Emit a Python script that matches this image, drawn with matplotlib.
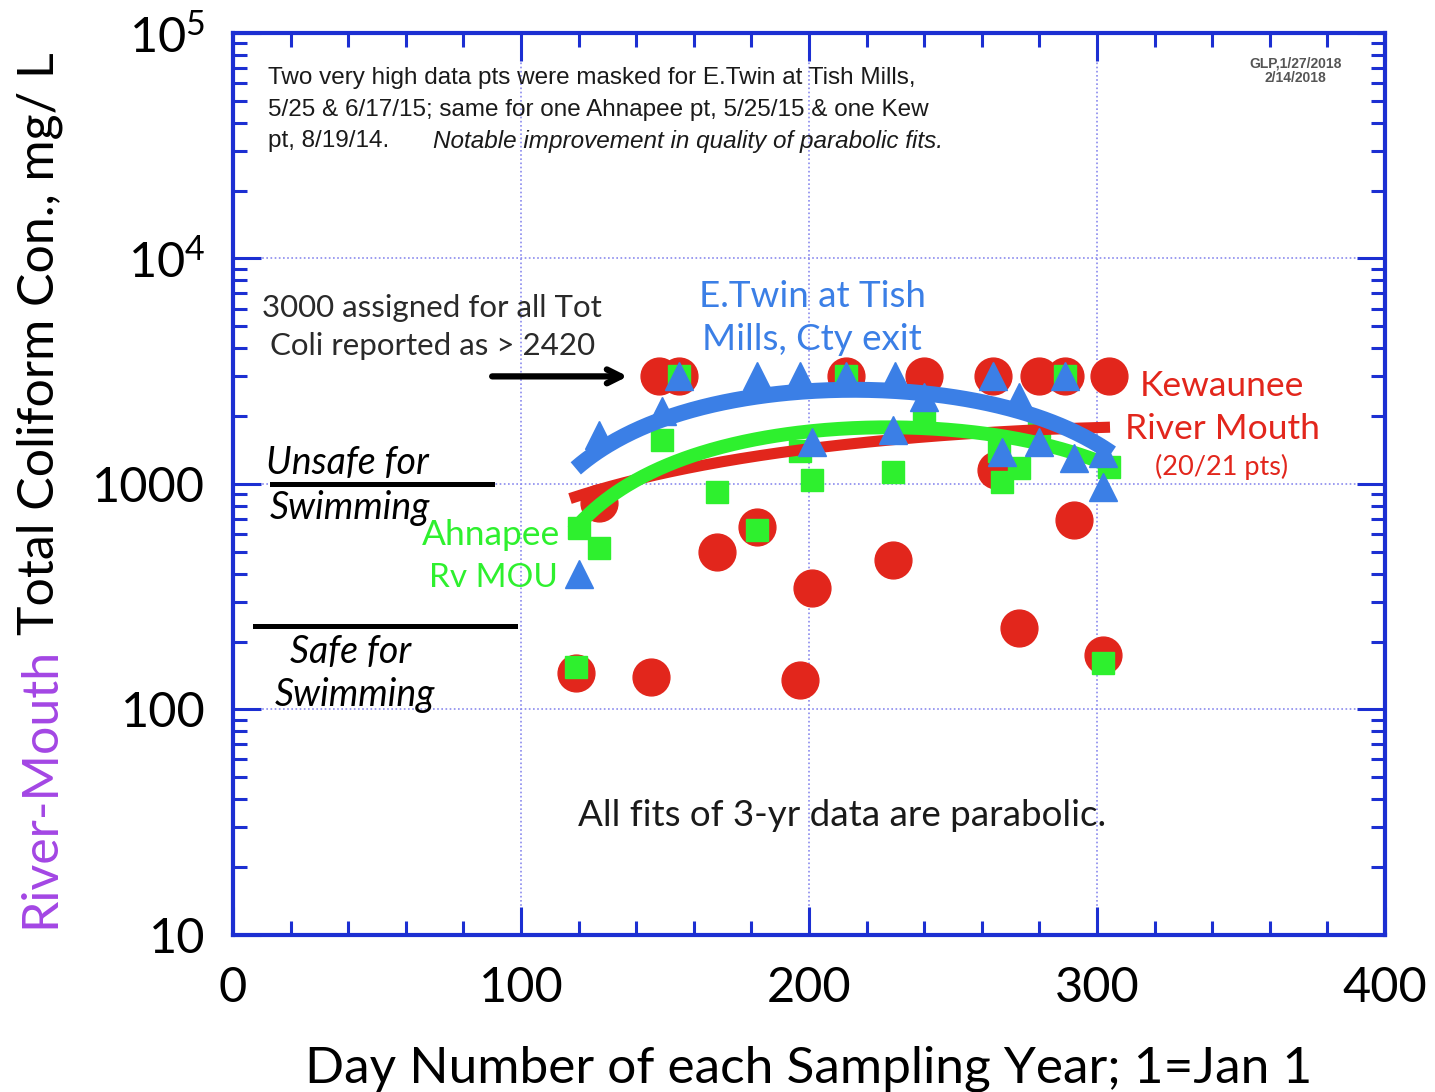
import numpy as np
import matplotlib
matplotlib.use("Agg")
import matplotlib.pyplot as plt
from matplotlib.ticker import FixedLocator, FixedFormatter, LogLocator, NullFormatter, MultipleLocator

plt.rcParams['font.family'] = ['Lato', 'DejaVu Sans']
plt.rcParams['mathtext.fontset'] = 'custom'
plt.rcParams['mathtext.rm'] = 'Lato'

# Kewaunee River Mouth (red circles)
kew_day = [119, 127, 145, 148, 155, 168, 182, 197, 201, 213, 229, 240, 264, 265, 273, 280, 289, 292, 302, 304]
kew_val = [145, 825, 140, 3000, 3000, 500, 645, 135, 345, 3000, 460, 3000, 3000, 1150, 230, 3000, 3000, 690, 175, 3000]

# Ahnapee River mouth (green squares)
ahn_day = [119, 120, 127, 149, 155, 168, 182, 197, 201, 213, 229, 240, 266, 267, 273, 280, 289, 302, 304]
ahn_val = [155, 640, 520, 1570, 3000, 920, 625, 1400, 1040, 3000, 1130, 1900, 1400, 1020, 1180, 1790, 3000, 160, 1190]

# E.Twin at Tish Mills, county exit (blue triangles)
etw_day = [120, 127, 149, 155, 182, 197, 201, 213, 229, 230, 240, 264, 267, 273, 280, 289, 292, 302, 302]
etw_val = [400, 1650, 2100, 3000, 3000, 3000, 1535, 3000, 1735, 3000, 2430, 3000, 1390, 2430, 1535, 3000, 1300, 1370, 970]

# parabolic fit curves, sampled along each fitted line
kew_fit_day = [117, 141, 164.5, 192, 204, 238.5, 273, 304.5]
kew_fit_val = [850, 1050, 1240, 1415, 1450, 1560, 1740, 1790]
ahn_fit_day = [118, 133, 153, 176, 204, 240, 273, 305.5]
ahn_fit_val = [630, 910, 1240, 1510, 1740, 1790, 1560, 1190]
etw_fit_day = [119, 149, 176, 204, 238.5, 273, 302, 305]
etw_fit_val = [1190, 1923, 2310, 2667, 2534, 2086, 1444, 1380]

# swimming thresholds
unsafe_level = 1000
safe_level = 235
unsafe_span = [13.5, 90]
safe_span = [7.6, 98]

x_ticks = [0, 100, 200, 300, 400]
x_labels = ['0', '100', '200', '300', '400']
y_ticks = [10, 100, 1000, 1e4, 1e5]
y_labels = ['10', '100', '1000', r'$\mathregular{10^4}$', r'$\mathregular{10^5}$']

RED = '#e2261c'
GREEN = '#2ef02e'
BLUE = '#3b7fe6'
AXBLUE = '#1c2fd2'
PURPLE = '#a346e4'
INK = '#1a1a1a'

fig = plt.figure(figsize=(14.35, 10.92), dpi=100)
ax = fig.add_axes([0.1624, 0.1438, 0.8028, 0.826])
ax.set_yscale('log')
ax.set_xlim(0, 400)
ax.set_ylim(10, 1e5)


def parabola(days, vals):
    c = np.polyfit(days, vals, 2)
    xs = np.linspace(min(days), max(days), 200)
    return xs, np.polyval(c, xs)


ax.plot(kew_day, kew_val, 'o', ms=26.5, color=RED, mec=RED, zorder=3)
ax.plot(ahn_day, ahn_val, 's', ms=16.5, color=GREEN, mec=GREEN, zorder=4)

xs, ys = parabola(kew_fit_day, kew_fit_val)
ax.plot(xs, ys, color=RED, lw=8, solid_capstyle='butt', zorder=5)
xs, ys = parabola(ahn_fit_day, ahn_fit_val)
ax.plot(xs, ys, color=GREEN, lw=10, solid_capstyle='butt', zorder=6)

ax.plot(etw_day, etw_val, '^', ms=20, color=BLUE, mec=BLUE, zorder=7)
xs, ys = parabola(etw_fit_day, etw_fit_val)
ax.plot(xs, ys, color=BLUE, lw=11.5, solid_capstyle='butt', zorder=8)

# threshold bars
ax.plot(unsafe_span, [unsafe_level] * 2, color='black', lw=3.6, zorder=9)
ax.plot(safe_span, [safe_level] * 2, color='black', lw=3.6, zorder=9)

# axes styling
for s in ax.spines.values():
    s.set_color(AXBLUE)
    s.set_linewidth(3)
ax.xaxis.set_major_locator(FixedLocator(x_ticks))
ax.xaxis.set_major_formatter(FixedFormatter(x_labels))
ax.xaxis.set_minor_locator(MultipleLocator(20))
ax.yaxis.set_major_locator(FixedLocator(y_ticks))
ax.yaxis.set_major_formatter(FixedFormatter(y_labels))
ax.yaxis.set_minor_locator(LogLocator(base=10, subs=np.arange(2, 10)))
ax.yaxis.set_minor_formatter(NullFormatter())
ax.tick_params(which='both', direction='in', top=True, right=True, color=AXBLUE, width=2.2)
ax.tick_params(which='major', length=20, labelsize=35, pad=20)
ax.tick_params(which='minor', length=10)
ax.tick_params(axis='x', which='major', pad=22)
ax.grid(True, which='major', color='#8a8aee', lw=1.2, ls=(0, (1, 1.5)))
ax.set_axisbelow(True)

ax.set_xlabel('Day Number of each Sampling Year; 1=Jan 1', fontsize=37, labelpad=26)

# two-colour y label
t1 = fig.text(40 / 1435, 1 - 928 / 1092, 'River-Mouth', rotation=90, color=PURPLE,
              fontsize=36, ha='center', va='bottom')
fig.canvas.draw()
bb = t1.get_window_extent()
fig.text(40 / 1435, (bb.y1 + 12) / fig.bbox.height, 'Total Coliform Con., mg/ L', rotation=90,
         color='black', fontsize=36, ha='center', va='bottom')

# notes
note_font = ['Liberation Sans Narrow', 'Liberation Sans', 'DejaVu Sans']
ax.text(0.030, 0.950, 'Two very high data pts were masked for E.Twin at Tish Mills,',
        transform=ax.transAxes, fontsize=17.5, family=note_font, color=INK, va='center')
ax.text(0.030, 0.915, '5/25 & 6/17/15; same for one Ahnapee pt, 5/25/15 & one Kew',
        transform=ax.transAxes, fontsize=17.5, family=note_font, color=INK, va='center')
ax.text(0.030, 0.880, 'pt, 8/19/14.', transform=ax.transAxes, fontsize=17.5, family=note_font,
        color=INK, va='center')
ax.text(0.1736, 0.880, 'Notable improvement in quality of parabolic fits.', transform=ax.transAxes,
        fontsize=17.5, family=note_font, style='italic', color=INK, va='center')
ax.text(0.922, 0.958, 'GLP,1/27/2018\n2/14/2018', transform=ax.transAxes, fontsize=10,
        family=note_font, color='#555555', ha='center', va='center', linespacing=1.0,
        fontweight='bold')

ax.text(0.025, 0.695, '3000 assigned for all Tot', transform=ax.transAxes, fontsize=22.5,
        color='#2a2a2a', va='center')
ax.text(0.032, 0.653, 'Coli reported as > 2420', transform=ax.transAxes, fontsize=22.5,
        color='#2a2a2a', va='center')
ax.annotate('', xy=(138, 3000), xytext=(89, 3000),
            arrowprops=dict(arrowstyle='->,head_length=1.0,head_width=0.5', lw=4.5, color='black'),
            zorder=10)

ax.text(0.5026, 0.708, 'E.Twin at Tish', transform=ax.transAxes, fontsize=26.5, color=BLUE,
        ha='center', va='center', zorder=10)
ax.text(0.5026, 0.660, 'Mills, Cty exit', transform=ax.transAxes, fontsize=26.5, color=BLUE,
        ha='center', va='center', zorder=10)

ax.text(0.8585, 0.6086, 'Kewaunee', transform=ax.transAxes, fontsize=25.5, color=RED,
        ha='center', va='center')
ax.text(0.8585, 0.561, 'River Mouth', transform=ax.transAxes, fontsize=25.5, color=RED,
        ha='center', va='center')
ax.text(0.8585, 0.519, '(20/21 pts)', transform=ax.transAxes, fontsize=19.5, color=RED,
        ha='center', va='center')

ax.text(0.0286, 0.523, 'Unsafe for', transform=ax.transAxes, fontsize=27, style='italic',
        color='black', va='center')
ax.text(0.032, 0.4734, 'Swimming', transform=ax.transAxes, fontsize=27, style='italic',
        color='black', va='center')
ax.text(0.0495, 0.3137, 'Safe for', transform=ax.transAxes, fontsize=27, style='italic',
        color='black', va='center')
ax.text(0.0365, 0.266, 'Swimming', transform=ax.transAxes, fontsize=27, style='italic',
        color='black', va='center')

ax.text(0.2839, 0.4435, 'Ahnapee', transform=ax.transAxes, fontsize=25.5, color=GREEN,
        ha='right', va='center', zorder=10)
ax.text(0.282, 0.3958, 'Rv MOU', transform=ax.transAxes, fontsize=24, color=GREEN,
        ha='right', va='center', zorder=10)

ax.text(0.2995, 0.133, 'All fits of 3-yr data are parabolic.', transform=ax.transAxes,
        fontsize=26.5, color=INK, va='center')

fig.savefig('out.png', dpi=100)
